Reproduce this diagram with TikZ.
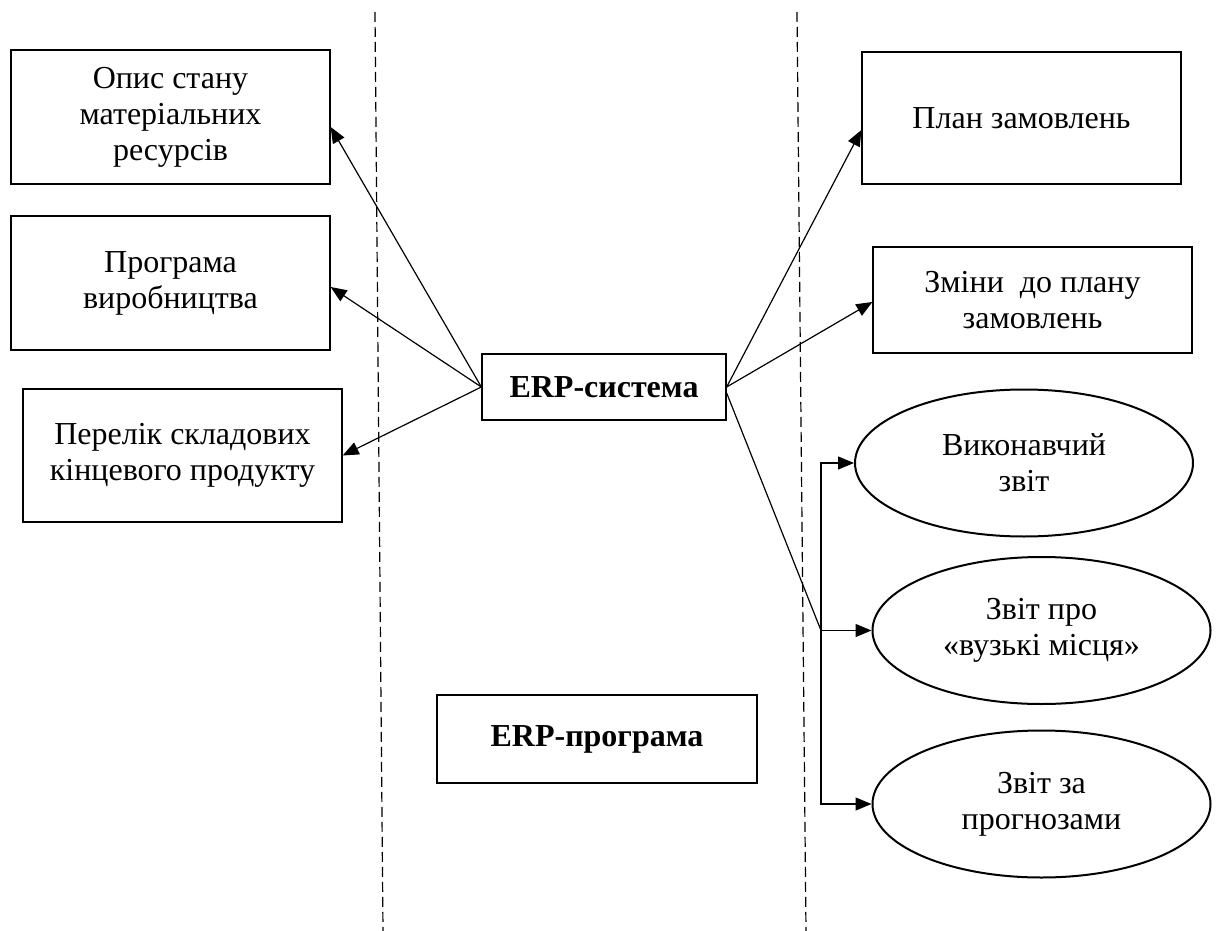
\documentclass[tikz,border=0pt]{standalone}
\usepackage{fontspec}
\setmainfont{Liberation Serif}
\usepackage{tikz}
\usetikzlibrary{arrows.meta,shapes.geometric}

\begin{document}
\begin{tikzpicture}[x=0.5pt,y=-0.5pt,
  every node/.style={font=\fontsize{16}{18}\selectfont, align=center, inner sep=0pt},
  box/.style={draw, line width=0.65pt, minimum width=159.5pt},
  oval/.style={draw, ellipse, line width=1pt, minimum width=169pt, minimum height=73.5pt},
  arr/.style={line width=0.6pt, -{Triangle[length=8pt,width=6.5pt]}},
  border/.style={line width=0.6pt, dash pattern=on 5pt off 2.5pt}]
  \useasboundingbox (0,0) rectangle (1216,931);
  \draw[border] (375,12) -- (383,931);
  \draw[border] (797,12) -- (806,931);
  % left side
  \node[box, minimum height=67pt] (opis) at (170.5,117) {Опис стану\\матеріальних\\ресурсів};
  \node[box, minimum height=67pt] (prog) at (170.5,283) {Програма\\виробництва};
  \node[box, minimum height=66.5pt] (perelik) at (182.5,455.5) {Перелік складових\\кінцевого продукту};
  % middle
  \node[box, minimum width=122pt, minimum height=33pt, font=\fontsize{16}{18}\selectfont\bfseries] (erp) at (604,387) {ERP-система};
  \node[box, minimum width=160pt, minimum height=44pt, font=\fontsize{16}{18}\selectfont\bfseries] (erpprog) at (597,739) {ERP-програма};
  % right side
  \node[box, minimum height=66pt] (plan) at (1021.5,118) {План замовлень};
  \node[box, minimum height=53pt] (zminy) at (1032.5,300) {Зміни~ до плану\\замовлень};
  \node[oval] (rep1) at (1024,463) {Виконавчий\\звіт};
  \node[oval] (rep2) at (1041.5,630.5) {Звіт про\\«вузькі місця»};
  \node[oval] (rep3) at (1041.5,804) {Звіт за\\прогнозами};
  \coordinate (br) at (821,630.5);
  % connectors
  \draw[arr] (erp.west) -- ([yshift=-5pt]opis.east);
  \draw[arr] (erp.west) -- ([yshift=-2pt]prog.east);
  \draw[arr] (erp.west) -- (perelik.east);
  \draw[arr] (erp.east) -- ([yshift=-6pt]plan.west);
  \draw[arr] (erp.east) -- ([yshift=-1pt]zminy.west);
  \draw[line width=0.6pt] ([yshift=-3pt]erp.east) -- (br);
  \draw[arr] (br) |- (rep1.west);
  \draw[arr] (br) -- (rep2.west);
  \draw[arr] (br) |- (rep3.west);
\end{tikzpicture}
\end{document}
